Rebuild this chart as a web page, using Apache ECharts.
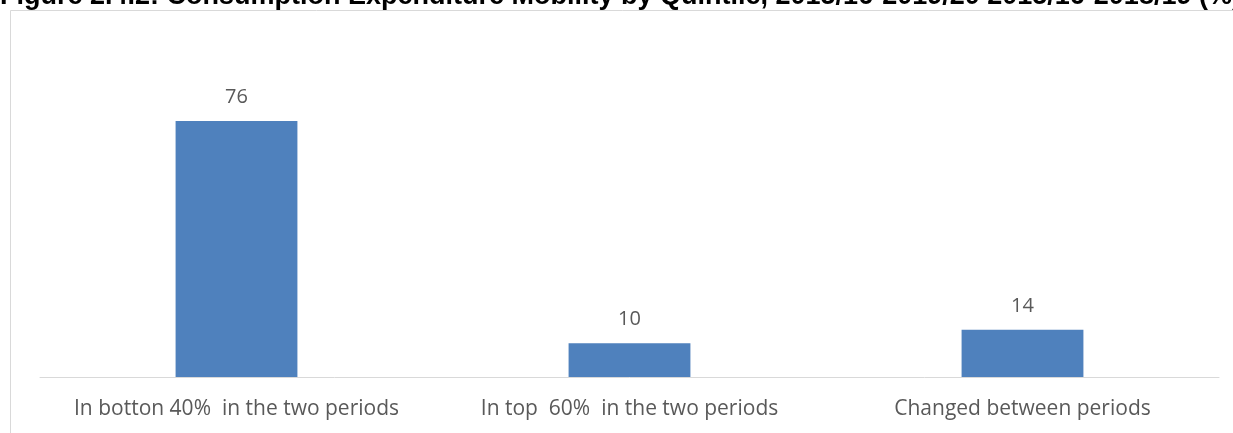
<!DOCTYPE html>
<html><head><meta charset="utf-8">
<script src="https://cdn.jsdelivr.net/npm/echarts@6/dist/echarts.min.js"></script>
<style>html,body{margin:0;padding:0;background:#fff}#c{width:1233px;height:433px}</style>
</head><body><div id="c"></div>
<script>
const titleText = "Figure 2.4.2: Consumption Expenditure Mobility by Quintile, 2015/16-2019/20 2015/16-2018/19 (%)";
const categories = ["In botton 40%  in the two periods", "In top  60%  in the two periods", "Changed between periods"];
const values = [76, 10, 14];

const chart = echarts.init(document.getElementById('c'), null, {renderer: 'canvas'});
chart.setOption({
  animation: false,
  backgroundColor: '#fff',
  graphic: [
    {type: 'rect', shape: {x: 10.5, y: 10.5, width: 1240, height: 440}, style: {fill: 'none', stroke: '#d9d9d9', lineWidth: 1}, z: -1},
    {type: 'text', left: 0, top: -17, style: {text: titleText, font: 'bold 27px "Liberation Sans", Arial, sans-serif', fill: '#000'}}
  ],
  grid: {left: 40, right: 14, top: 40, bottom: 56, containLabel: false},
  xAxis: {
    type: 'category', data: categories,
    axisLine: {lineStyle: {color: '#d9d9d9', width: 1}},
    axisTick: {show: false},
    axisLabel: {color: '#595959', fontSize: 21, fontFamily: '"Open Sans", "Liberation Sans", sans-serif', margin: 22, interval: 0}
  },
  yAxis: {type: 'value', min: 0, max: 100, show: false, splitLine: {show: false}},
  series: [{
    type: 'bar', data: values, barWidth: '31%',
    itemStyle: {color: '#4f81bd'},
    label: {show: true, position: 'top', distance: 14, color: '#595959', fontSize: 20, fontFamily: '"Open Sans", "Liberation Sans", sans-serif'}
  }]
});
</script></body></html>
